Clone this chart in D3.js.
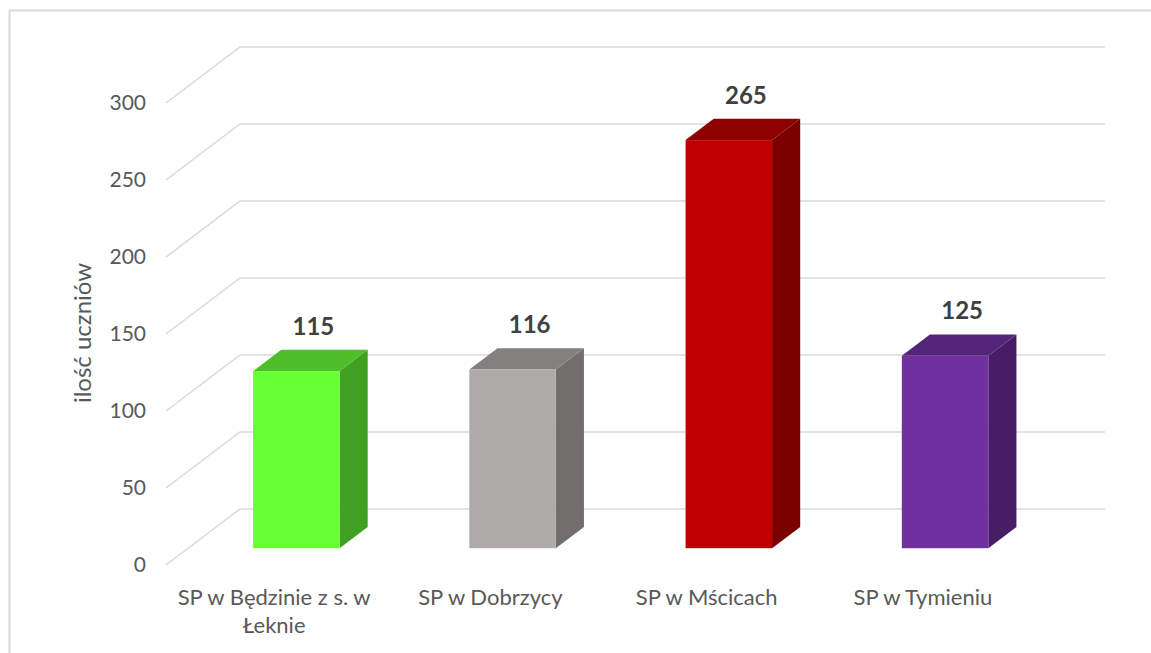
<!DOCTYPE html>
<html lang="pl">
<head>
<meta charset="UTF-8">
<title>D3</title>
<script src="https://d3js.org/d3.v7.min.js"></script>
<style>
  body { margin: 0; background: #fff; }
  text { font-family: Lato, sans-serif; }
</style>
</head>
<body>
<script>
const categories = ['SP w Będzinie z s. w Łeknie', 'SP w Dobrzycy', 'SP w Mścicach', 'SP w Tymieniu'];
const values = [115, 116, 265, 125];
const yTicks = [0, 50, 100, 150, 200, 250, 300];
const axisTitle = 'ilość uczniów';

const frontColors = ['#66ff33', '#aeaaaa', '#c00000', '#7030a0'];
const sideColors  = ['#3fa022', '#716e6e', '#7a0000', '#471e66'];
const topColors   = ['#4ebf2a', '#858080', '#8e0000', '#542479'];

let width = 1151, height = 653;
// depth of the 3d box: offset of the back wall
const DX = 74, DY = -56;
const barFront = 0.3, barBack = 0.68;

const svg = d3.select('body').append('svg').attr('width', width).attr('height', height);

svg.append('rect')
  .attr('x', 9.5).attr('y', 10.5).attr('width', 1200).attr('height', 700)
  .attr('fill', 'none').attr('stroke', '#d9d9d9').attr('stroke-width', 2);

const x = d3.scaleBand().domain(categories).range([166, 1031]);
const y = d3.scaleLinear().domain([0, 300]).range([565, 103]);

// gridlines: side floor diagonal + back wall
svg.append('g').selectAll('path')
  .data(yTicks)
  .join('path')
  .attr('fill', 'none')
  .attr('stroke', '#d9d9d9')
  .attr('stroke-width', 1.5)
  .attr('d', t => `M${x.range()[0]},${y(t)} L${x.range()[0] + DX},${y(t) + DY} L${x.range()[1] + DX},${y(t) + DY}`);

// tick labels
svg.append('g').selectAll('text')
  .data(yTicks)
  .join('text')
  .attr('x', 146)
  .attr('y', t => y(t))
  .attr('dy', '0.35em')
  .attr('text-anchor', 'end')
  .style('font-size', '21px')
  .style('fill', '#595959')
  .text(t => t);

svg.append('text')
  .attr('transform', `translate(91,${y(150) - 1}) rotate(-90)`)
  .attr('text-anchor', 'middle')
  .style('font-size', '24px')
  .style('fill', '#595959')
  .text(axisTitle);

// bars
const bw = x.bandwidth() * 0.4;
const bars = svg.append('g').selectAll('g')
  .data(categories)
  .join('g');

bars.each(function (c, i) {
  const g = d3.select(this);
  const x0 = x(c) + x.bandwidth() / 2 - bw / 2;
  const x1 = x0 + bw;
  const fx = DX * barFront, fy = DY * barFront;
  const bx = DX * barBack, by = DY * barBack;
  const yT = y(values[i]), yB = y(0);
  // side
  g.append('path')
    .attr('fill', sideColors[i])
    .attr('d', `M${x1 + fx},${yT + fy} L${x1 + bx},${yT + by} L${x1 + bx},${yB + by} L${x1 + fx},${yB + fy}Z`);
  // top
  g.append('path')
    .attr('fill', topColors[i])
    .attr('d', `M${x0 + fx},${yT + fy} L${x0 + bx},${yT + by} L${x1 + bx},${yT + by} L${x1 + fx},${yT + fy}Z`);
  // front
  g.append('rect')
    .attr('x', x0 + fx).attr('y', yT + fy)
    .attr('width', bw).attr('height', yB - yT)
    .attr('fill', frontColors[i]);
  // value label
  g.append('text')
    .attr('x', x0 + bw / 2 + (fx + bx) / 2 + 3)
    .attr('y', yT + by - 15)
    .attr('text-anchor', 'middle')
    .style('font-size', '24px')
    .style('font-weight', 'bold')
    .style('fill', '#404040')
    .text(values[i]);
});

// category labels with wrapping
const catText = svg.append('g').selectAll('text')
  .data(categories)
  .join('text')
  .attr('x', d => x(d) + x.bandwidth() / 2)
  .attr('y', 605)
  .attr('text-anchor', 'middle')
  .style('font-size', '22px')
  .style('fill', '#595959');

catText.each(function (d) {
  const t = d3.select(this);
  const words = d.split(' ');
  let line = [], lines = [];
  const probe = t.append('tspan');
  words.forEach(w => {
    probe.text([...line, w].join(' '));
    if (probe.node().getComputedTextLength() > x.bandwidth() && line.length) {
      lines.push(line.join(' '));
      line = [w];
    } else {
      line.push(w);
    }
  });
  lines.push(line.join(' '));
  probe.remove();
  t.selectAll('tspan')
    .data(lines)
    .join('tspan')
    .attr('x', x(d) + x.bandwidth() / 2)
    .attr('dy', (l, i) => i ? '1.25em' : 0)
    .text(l => l);
});
</script>
</body>
</html>
